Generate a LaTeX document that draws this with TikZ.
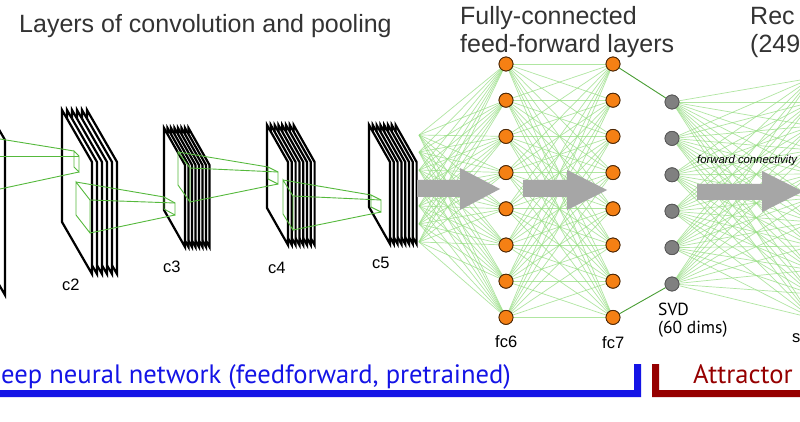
\documentclass[tikz,border=0pt]{standalone}
\usepackage{fontspec}
\setmainfont{Liberation Sans}
\newfontfamily\ptsans{PT Sans}
\pgfdeclarelayer{background}
\pgfsetlayers{background,main}
\definecolor{convgreen}{RGB}{85,185,60}
\definecolor{lightgreen}{RGB}{150,222,130}
\definecolor{orangenode}{RGB}{245,128,20}
\definecolor{graynode}{RGB}{128,128,128}
\definecolor{arrowgray}{RGB}{166,166,166}
\definecolor{headgray}{RGB}{51,51,51}
\definecolor{dnnblue}{RGB}{20,20,230}
\definecolor{attred}{RGB}{150,0,0}
\newcommand\ConvStack[7]{%
  \foreach \k in {#6,...,1}{%
    \pgfmathsetmacro\xx{#1+(\k-1)*#7}%
    \filldraw[sheet] (\xx,#2) -- ++(#3,#4) -- ++(0,#5) -- ++(-#3,-#4) -- cycle;
  }}
\begin{document}
\begin{tikzpicture}[x=1pt,y=-1pt,
  sheet/.style={draw=black, line width=2.2pt, fill=white, line join=miter},
  kern/.style={draw=convgreen, line width=0.9pt},
  conn/.style={draw=lightgreen, line width=0.7pt, opacity=0.75},
  fclink/.style={draw=convgreen!85!black, line width=0.9pt},
  neuron/.style={circle, minimum size=14pt, inner sep=0pt, line width=0.8pt},
  orangeneuron/.style={neuron, fill=orangenode, draw=black!70!orangenode},
  grayneuron/.style={neuron, fill=graynode, draw=black!65},
  bigarrow/.style={fill=arrowgray, draw=none},
  lbl/.style={font=\fontsize{16.5}{18}\selectfont, inner sep=0pt, anchor=base west},
  heading/.style={font=\fontsize{25}{30}\selectfont, text=headgray, inner sep=0pt, anchor=base west},
  bottomtext/.style={font=\ptsans\fontsize{26.6}{30}\selectfont, inner sep=0pt, anchor=base west},
]
\clip (0,0) rectangle (800,422);

% ---------- convolution stacks ----------
\ConvStack{-25}{88}{30}{52}{155}{1}{0}
\ConvStack{62}{110}{30}{52}{112}{6}{5}
\ConvStack{164}{128}{21}{37}{82}{8}{3.5}
\ConvStack{267}{125}{21}{37}{83}{8}{3.8}
\ConvStack{369}{125}{21}{37}{82}{8}{3.8}

% ---------- kernels ----------
% c1 -> c2
\coordinate (p1) at (0,139);
\coordinate (p2) at (0,156);
\coordinate (p3) at (0,189);
\coordinate (a1) at (74,151); \coordinate (a2) at (79,156);
\coordinate (a3) at (79,172); \coordinate (a4) at (74,167);
\draw[kern] (a1) -- (a2) -- (a3) -- (a4) -- cycle;
\draw[kern] (p1) -- (a1);
\draw[kern] (p2) -- (a2);
\draw[kern] (p3) -- (a3);
% c2 -> c3
\coordinate (B1) at (76,182); \coordinate (B2) at (90,200);
\coordinate (B3) at (90,233); \coordinate (B4) at (76,215);
\coordinate (b1) at (164,197); \coordinate (b2) at (175,203);
\coordinate (b3) at (175,215); \coordinate (b4) at (164,209);
\draw[kern] (B1) -- (B2) -- (B3) -- (B4) -- cycle;
\draw[kern] (b1) -- (b2) -- (b3) -- (b4) -- cycle;
\draw[kern] (B1) -- (b1);
\draw[kern] (B2) -- (b2);
\draw[kern] (B3) -- (b3);
% c3 -> c4
\coordinate (C1) at (178,152); \coordinate (C2) at (190,168);
\coordinate (C3) at (190,202); \coordinate (C4) at (178,185);
\coordinate (c1) at (268,167); \coordinate (c2) at (278,172);
\coordinate (c3) at (278,184); \coordinate (c4) at (268,179);
\draw[kern] (C1) -- (C2) -- (C3) -- (C4) -- cycle;
\draw[kern] (c1) -- (c2) -- (c3) -- (c4) -- cycle;
\draw[kern] (C1) -- (c1);
\draw[kern] (C2) -- (c2);
\draw[kern] (C3) -- (c3);
% c4 -> c5
\coordinate (D1) at (283,180); \coordinate (D2) at (293,196);
\coordinate (D3) at (293,230); \coordinate (D4) at (283,214);
\coordinate (d1) at (371,195); \coordinate (d2) at (381,200);
\coordinate (d3) at (381,212); \coordinate (d4) at (371,207);
\draw[kern] (D1) -- (D2) -- (D3) -- (D4) -- cycle;
\draw[kern] (d1) -- (d2) -- (d3) -- (d4) -- cycle;
\draw[kern] (D1) -- (d1);
\draw[kern] (D2) -- (d2);
\draw[kern] (D3) -- (d3);

% ---------- units ----------
\foreach \i in {1,...,8}{
  \node[orangeneuron] (fa\i) at (506,{64+36.2*(\i-1)}) {};
  \node[orangeneuron] (fb\i) at (613,{64+36.2*(\i-1)}) {};
}
\foreach \i in {1,...,6}{
  \node[grayneuron] (sv\i) at (672,{102+36.4*(\i-1)}) {};
}
\foreach \i/\yy in {1/135,2/152,3/170,4/188,5/206,6/224,7/242}{
  \coordinate (o\i) at (419,\yy);
}
\foreach \j/\yy in {1/78,2/102,3/126,4/150,5/174,6/198,7/222,8/246,9/270,10/294,11/318}{
  \coordinate (r\j) at (812,\yy);
}

% ---------- connections (behind) ----------
\begin{pgfonlayer}{background}
\fill[white] (0,0) rectangle (800,422);
\foreach \i in {1,...,7}{\foreach \j in {1,...,8}{\draw[conn] (o\i) -- (fa\j);}}
\foreach \i in {1,...,8}{\foreach \j in {1,...,8}{\draw[conn] (fa\i) -- (fb\j);}}
\foreach \i in {1,...,6}{\foreach \j in {1,...,11}{\draw[conn] (sv\i) -- (r\j);}}
\end{pgfonlayer}
\draw[fclink] (fb1) -- (sv1);
\draw[fclink] (fb8) -- (sv6);

% ---------- big arrows ----------
\fill[bigarrow] (417,180) -- (460,180) -- (460,168) -- (500,189) -- (460,210) -- (460,197) -- (417,197) -- cycle;
\fill[bigarrow] (523,180) -- (567,180) -- (567,170) -- (607,190) -- (567,210) -- (567,197) -- (523,197) -- cycle;
\fill[bigarrow] (697,184) -- (762,184) -- (762,171) -- (803,191.5) -- (762,212) -- (762,200) -- (697,200) -- cycle;

% redraw units above arrows
\foreach \i in {1,...,8}{
  \node[orangeneuron] at (fa\i) {};
  \node[orangeneuron] at (fb\i) {};
}
\foreach \i in {1,...,6}{
  \node[grayneuron] at (sv\i) {};
}

% ---------- labels ----------
\node[heading] (h1) at (19,33) {Layers of convolution and pooling};
\node[heading] (h2) at (460,25) {Fully-connected};
\node[heading] (h3) at (460,53) {feed-forward layers};
\node[heading] (h4) at (750,25) {Rec};
\node[heading] (h5) at (750,53) {(249};

\node[lbl] (lc2) at (62,290) {c2};
\node[lbl] (lc3) at (163,272) {c3};
\node[lbl] (lc4) at (268,273) {c4};
\node[lbl] (lc5) at (372,268) {c5};
\node[lbl] (lf6) at (495,347) {fc6};
\node[lbl] (lf7) at (602,348) {fc7};
\node[lbl, font=\ptsans\fontsize{17.5}{19}\selectfont] (lsvd) at (658,315) {SVD};
\node[lbl, font=\ptsans\fontsize{17.5}{19}\selectfont] (ldim) at (658,333) {(60 dims)};
\node[lbl, font=\itshape\fontsize{11.3}{13}\selectfont] (lfw) at (697,164) {forward connectivity};
\node[lbl] (ls) at (792,342) {s};

% ---------- bottom brackets ----------
\fill[dnnblue] (0,390) -- (634,390) -- (634,364) -- (641,364) -- (641,397) -- (0,397) -- cycle;
\fill[attred] (652,364) -- (659,364) -- (659,390) -- (800,390) -- (800,397) -- (652,397) -- cycle;
\node[bottomtext, text=dnnblue] (dnn) at (1,383) {eep neural network (feedforward, pretrained)};
\node[bottomtext, text=attred] (att) at (693,383) {Attractor};
\end{tikzpicture}
\end{document}
